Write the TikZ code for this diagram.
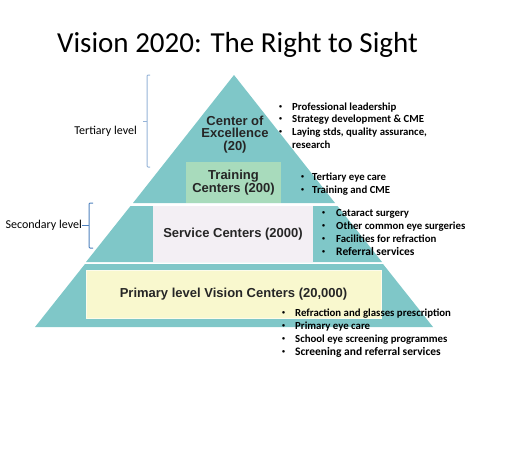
\documentclass[tikz,border=0pt]{standalone}
\usepackage{fontspec}
\setmainfont{Carlito}
\newfontfamily\arialfont{Liberation Sans}
\usetikzlibrary{positioning}
\definecolor{vsTeal}{HTML}{7FC7C8}
\definecolor{vsMint}{HTML}{A8DBBC}
\definecolor{vsLilac}{HTML}{F3EFF4}
\definecolor{vsCream}{HTML}{F9F8CE}
\definecolor{vsInk}{HTML}{262626}
\definecolor{vsBrace}{HTML}{95B3D7}
\definecolor{vsBraceDk}{HTML}{4F81BD}
\newcommand{\dotmark}{\raisebox{0.35ex}{\fontsize{6}{6}\selectfont\textbullet}}
\newcommand{\bitem}[1][13pt]{\makebox[#1][l]{\dotmark}}
\tikzset{
  ttl/.style={font=\fontsize{29}{34}\selectfont, inner sep=0pt},
  lyr/.style={inner sep=0pt, align=center, text=vsInk, font=\arialfont\bfseries\fontsize{13}{12.6}\selectfont},
  lvl/.style={font=\fontsize{12}{14}\selectfont, inner sep=0pt, anchor=base east},
  pts/.style={font=\bfseries\fontsize{10.8}{13}\selectfont, inner sep=0pt, anchor=base west},
  brc/.style={line width=1pt, rounded corners=1pt},
}

\begin{document}
\begin{tikzpicture}[x=1pt, y=-1pt]
  \useasboundingbox (0,0) rectangle (526,453);
  \node[ttl] (title) at (237.5,45) {Vision 2020: The Right to Sight};
  % pyramid
  \fill[vsTeal] (234,75) -- (335,203) -- (133,203) -- cycle;
  \fill[vsTeal] (130.5,206) -- (337.5,206) -- (382,262) -- (86,262) -- cycle;
  \fill[vsTeal] (85,264) -- (383,264) -- (433,327) -- (35,327) -- cycle;
  \node[lyr] (coe) at (235,134.5) {Center of\\Excellence\\(20)};
  \node[lyr, fill=vsMint, minimum width=95, minimum height=41] (train) at (233.5,182.5) {Training\\Centers (200)};
  \node[lyr, fill=vsLilac, minimum width=160, minimum height=56] (serv) at (233,234) {Service Centers (2000)};
  \node[lyr, fill=vsCream, draw=vsCream!40, minimum width=295, minimum height=48] (prim) at (233.5,294) {Primary level Vision Centers (20,000)};
  % levels
  \node[lvl] (tert) at (137,134) {Tertiary level};
  \draw[brc, vsBrace] (150,75) -- (147,75) -- (147,167) -- (150,167);
  \coordinate (tertTip) at (147,121.5);
  \draw[vsBrace, line width=1pt] (tertTip) -- ++(-4,0);
  \node[lvl] (sec) at (82,228) {Secondary level};
  \draw[brc, vsBraceDk] (93,203) -- (89,203) -- (89,248) -- (93,248);
  \coordinate (secTip) at (89,225);
  \draw[vsBraceDk, line width=1pt] (secTip) -- (sec.east |- secTip);
  % bullet lists
  \node[pts, font=\bfseries\fontsize{10.8}{12.7}\selectfont] (coeList) at (279,110) {\begin{tabular}[t]{@{}l@{}}
    \bitem Professional leadership\\
    \bitem Strategy development \& CME\\
    \bitem Laying stds, quality assurance,\\
    \hspace*{13pt}research
  \end{tabular}};
  \node[pts] (trainList) at (301,180) {\begin{tabular}[t]{@{}l@{}}
    \bitem[11pt]Tertiary eye care\\
    \bitem[11pt]Training and CME
  \end{tabular}};
  \node[pts] (servList) at (322,216) {\begin{tabular}[t]{@{}l@{}}
    \bitem[14pt]Cataract surgery\\
    \bitem[14pt]Other common eye surgeries\\
    \bitem[14pt]Facilities for refraction\\
    \bitem[14pt]{\fontsize{11.5}{13}\selectfont Referral services}
  \end{tabular}};
  \node[pts] (primList) at (282,316) {\begin{tabular}[t]{@{}l@{}}
    \bitem Refraction and glasses prescription\\
    \bitem Primary eye care\\
    \bitem School eye screening programmes\\
    \bitem {\fontsize{11.5}{13}\selectfont Screening and referral services}
  \end{tabular}};
\end{tikzpicture}
\end{document}
